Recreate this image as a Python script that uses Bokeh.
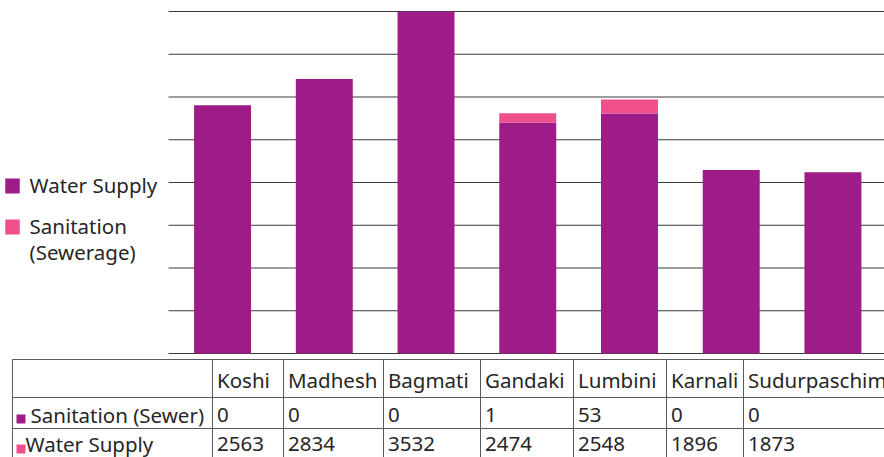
from bokeh.plotting import figure
from bokeh.models import Range1d, ColumnDataSource
from bokeh.embed import file_html
from bokeh.resources import INLINE
from bokeh.core.properties import value

# ---------------- data ----------------
regions = ["Koshi", "Madhesh", "Bagmati", "Gandaki", "Lumbini", "Karnali", "Sudurpaschim"]
# bar heights as drawn in the picture
water_supply = [2563, 2834, 3532, 2386, 2478, 1896, 1873]
sanitation = [0, 0, 0, 96, 145, 0, 0]
# values printed in the data table
table_sanitation = ["0", "0", "0", "1", "53", "0", "0"]
table_water = ["2563", "2834", "3532", "2474", "2548", "1896", "1873"]
legend_lines = [["Water Supply"], ["Sanitation", "(Sewerage)"]]
table_row_labels = ["Sanitation (Sewer)", "Water Supply"]

# ---------------- style / layout ----------------
PURPLE = "#9d1c87"
PINK = "#ef4f8a"
TEXT = "#262626"
GRID = "#3a3a3a"
TLINE = "#5a5a5a"
FONT = "Noto Sans"
FS = "20.5px"
W, H = 884, 457
PLOT_TOP, PLOT_BOTTOM = 11, 353      # pixel rows of the value-axis extent
GRID_LEFT = 168
SLOT, X0 = 101.73, 171.2            # category slot width and left edge of first slot
N_GRID = 8
DY = 9                               # text glyph baseline correction (px)

ymax = max(w + s for w, s in zip(water_supply, sanitation))
k = (PLOT_BOTTOM - PLOT_TOP) / ymax  # px per unit
n = len(regions)

p = figure(width=W, height=H, output_backend="svg", toolbar_location=None,
           x_range=Range1d(-0.5 - X0 / SLOT, -0.5 + (W - X0) / SLOT),
           y_range=Range1d(-(H - PLOT_BOTTOM) / k, ymax + PLOT_TOP / k),
           x_axis_location=None, y_axis_location=None, min_border=0)
p.extra_x_ranges = {"px": Range1d(0, W)}
p.extra_y_ranges = {"px": Range1d(H, 0)}
p.outline_line_color = None
p.grid.visible = False

# gridlines (value axis, no labels)
ticks = [ymax * i / N_GRID for i in range(N_GRID + 1)]
p.segment(x0=[GRID_LEFT] * len(ticks), x1=[W] * len(ticks), y0=ticks, y1=ticks,
          x_range_name="px", line_color=GRID, line_width=1, level="underlay")

# stacked bars
src = ColumnDataSource(dict(idx=list(range(n)), region=regions,
                            water=water_supply, sewer=sanitation))
p.vbar_stack(["water", "sewer"], x="idx", width=0.56, source=src,
             fill_color=[PURPLE, PINK], line_color=None)

txt = dict(text_font=value(FONT), text_font_size=FS, text_color=TEXT,
           text_baseline="alphabetic", x_range_name="px", y_range_name="px")

# legend (left side)
p.rect(x=[12, 12], y=[185.5, 226.5], width=14.5, height=15, fill_color=[PURPLE, PINK],
       line_color=None, x_range_name="px", y_range_name="px")
p.text(x=[29, 29, 29], y=[193 - DY, 234 - DY, 260 - DY],
       text=[legend_lines[0][0], legend_lines[1][0], legend_lines[1][1]], **txt)

# ---------------- data table ----------------
col_edges = [12, 212, 283, 383, 480, 573, 666, 743]
row_lines = [359, 397, 428]
baselines = [388 - DY, 423 - DY, 452 - DY]

p.segment(x0=[col_edges[0]] * 3, x1=[W] * 3, y0=row_lines, y1=row_lines,
          line_color=TLINE, line_width=1, x_range_name="px", y_range_name="px")
p.segment(x0=col_edges, x1=col_edges, y0=[row_lines[0]] * len(col_edges), y1=[H] * len(col_edges),
          line_color=TLINE, line_width=1, x_range_name="px", y_range_name="px")

cx = [e + 4.5 for e in col_edges[1:]]
p.text(x=cx, y=[baselines[0]] * n, text=regions, **txt)
p.text(x=cx, y=[baselines[1]] * n, text=table_sanitation, **txt)
p.text(x=cx, y=[baselines[2]] * n, text=table_water, **txt)
p.text(x=[30, 25], y=baselines[1:], text=table_row_labels, **txt)
p.rect(x=[20.5, 20.5], y=[418.5, 448.5], width=9, height=9,
       fill_color=[PURPLE, PINK], line_color=None, x_range_name="px", y_range_name="px")

open("out.html", "w").write(file_html(p, INLINE))
